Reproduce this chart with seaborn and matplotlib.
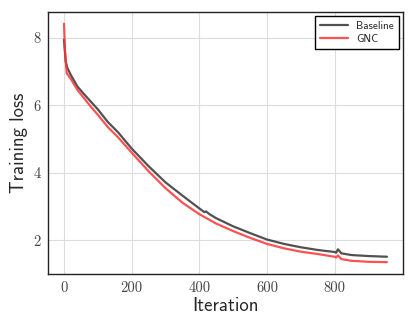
import numpy as np
import pandas as pd
import matplotlib
matplotlib.use("Agg")
import matplotlib.pyplot as plt
import seaborn as sns

# Training curves
base_iter = [0, 5, 10, 20, 40, 60, 80, 100, 130, 160, 200, 250, 300, 350, 400,
             415, 420, 430, 450, 500, 550, 600, 650, 700, 750, 800, 805, 810,
             820, 850, 900, 955]
base_loss = [7.94, 7.3, 7.1, 6.9, 6.55, 6.32, 6.1, 5.88, 5.5, 5.2, 4.72, 4.2,
             3.72, 3.33, 2.95, 2.84, 2.86, 2.78, 2.66, 2.42, 2.22, 2.03, 1.9,
             1.8, 1.72, 1.66, 1.64, 1.74, 1.62, 1.57, 1.54, 1.52]

gnc_iter = [0, 3, 8, 20, 40, 60, 80, 100, 130, 160, 200, 250, 300, 350, 400,
            450, 500, 550, 600, 650, 700, 750, 800, 805, 810, 820, 850, 900, 955]
gnc_loss = [8.41, 7.6, 6.95, 6.78, 6.45, 6.2, 5.95, 5.72, 5.35, 5.05, 4.6,
            4.05, 3.55, 3.12, 2.78, 2.5, 2.28, 2.08, 1.9, 1.77, 1.67, 1.6,
            1.52, 1.5, 1.56, 1.45, 1.4, 1.37, 1.36]

sns.set_style("whitegrid", {"axes.edgecolor": "#222222", "grid.color": "#dddddd"})

df = pd.concat([
    pd.DataFrame({"Iteration": base_iter, "loss": base_loss, "run": "Baseline"}),
    pd.DataFrame({"Iteration": gnc_iter, "loss": gnc_loss, "run": "GNC"}),
])

fig = plt.figure(figsize=(4.16, 3.29), dpi=100)
ax = fig.add_axes([0.115, 0.167, 0.854, 0.797])

sns.lineplot(data=df, x="Iteration", y="loss", hue="run",
             palette={"Baseline": "#333333", "GNC": "#ff3333"},
             alpha=0.85, linewidth=1.6, ax=ax)

ax.set_xticks([0, 200, 400, 600, 800])
ax.set_yticks([2, 4, 6, 8])
for lab in ax.get_xticklabels() + ax.get_yticklabels():
    lab.set_fontfamily("cmr10")
    lab.set_fontsize(10.5)
    lab.set_color("#444444")
ax.tick_params(length=0, pad=5)

ax.set_xlabel("Iteration", fontfamily="cmss10", fontsize=13.5, labelpad=2)
ax.set_ylabel("Training loss", fontfamily="cmss10", fontsize=13.5, labelpad=4)

for sp in ax.spines.values():
    sp.set_linewidth(1.0)

leg = ax.legend(loc="upper right", frameon=True, fancybox=False,
                prop={"family": "cmss10", "size": 8}, handlelength=2.5,
                borderpad=0.4, labelspacing=0.3, borderaxespad=0.4)
leg.get_frame().set_edgecolor("black")
leg.get_frame().set_linewidth(1.0)
leg.get_frame().set_alpha(1)

fig.savefig("out.png", dpi=100)
